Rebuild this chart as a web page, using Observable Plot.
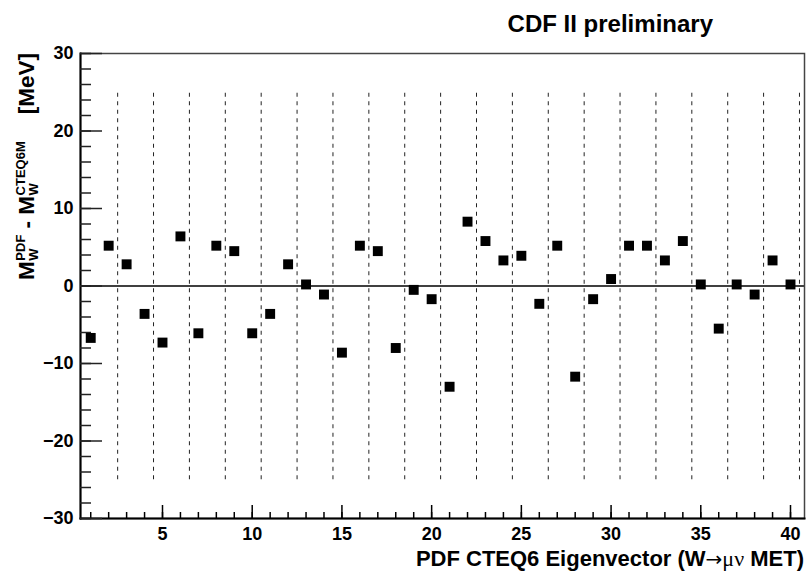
<!DOCTYPE html>
<html>
<head>
<meta charset="utf-8">
<script src="https://cdn.jsdelivr.net/npm/d3@7"></script>
<script src="https://cdn.jsdelivr.net/npm/@observablehq/plot@0.6"></script>
<style>
  body { margin: 0; background: #fff; }
  #chart svg { display: block; }
</style>
</head>
<body>
<div id="chart"></div>
<script>
// ---- data ----
const eigenvectors = [1,2,3,4,5,6,7,8,9,10,11,12,13,14,15,16,17,18,19,20,
                      21,22,23,24,25,26,27,28,29,30,31,32,33,34,35,36,37,38,39,40];
const deltaMW = [-6.7, 5.2, 2.8, -3.6, -7.3, 6.4, -6.1, 5.2, 4.5, -6.1,
                 -3.6, 2.8, 0.2, -1.1, -8.6, 5.2, 4.5, -8.0, -0.5, -1.7,
                 -13.0, 8.3, 5.8, 3.3, 3.9, -2.3, 5.2, -11.7, -1.7, 0.9,
                 5.2, 5.2, 3.3, 5.8, 0.2, -5.5, 0.2, -1.1, 3.3, 0.2];
const xTickLabels = [5, 10, 15, 20, 25, 30, 35, 40];
const xMinorTicks = [1,2,3,4,5,6,7,8,9,10,11,12,13,14,15,16,17,18,19,20,
                     21,22,23,24,25,26,27,28,29,30,31,32,33,34,35,36,37,38,39,40];
const yTickLabels = [-30, -20, -10, 0, 10, 20, 30];
const yMinorTicks = [-30,-28,-26,-24,-22,-20,-18,-16,-14,-12,-10,-8,-6,-4,-2,0,
                     2,4,6,8,10,12,14,16,18,20,22,24,26,28,30];
const separators = [2.5,4.5,6.5,8.5,10.5,12.5,14.5,16.5,18.5,20.5,
                    22.5,24.5,26.5,28.5,30.5,32.5,34.5,36.5,38.5,40.5];
const separatorRange = [-25, 25];
const xDomain = [0.43, 40.78];
const yDomain = [-30, 30];
const titleText = "CDF II preliminary";
const xTitleParts = [["PDF CTEQ6 Eigenvector (W", "b"], ["\u2192", "a"], ["\u03bc\u03bd", "s"], [" MET)", "b"]];
const yTitleParts = [
  {base: "M", sup: "PDF", sub: "W"},
  {sep: " - "},
  {base: "M", sup: "CTEQ6M", sub: "W"}
];
const yUnit = "[MeV]";

// ---- layout ----
const W = 809, H = 575, mL = 80, mR = 5, mT = 53, mB = 57;
const fw = W - mL - mR, fh = H - mT - mB;
const FONT = "'Liberation Sans', Arial, Helvetica, sans-serif";
const SYM = "'Liberation Serif', 'DejaVu Serif', serif";
const ARROW = "'DejaVu Sans', sans-serif";

const data = eigenvectors.map((n, i) => ({n, v: deltaMW[i]}));

const chart = Plot.plot({
  width: W, height: H,
  marginLeft: mL, marginRight: mR, marginTop: mT, marginBottom: mB,
  style: {fontFamily: FONT, fontWeight: "bold", fontSize: "18px", background: "white", color: "black"},
  x: {domain: xDomain, label: null},
  y: {domain: yDomain, label: null},
  marks: [
    Plot.ruleX(separators, {y1: separatorRange[0], y2: separatorRange[1], stroke: "#222", strokeWidth: 1, strokeDasharray: "4,4.5"}),
    Plot.ruleY([0], {stroke: "black", strokeWidth: 1.5}),
    Plot.frame({stroke: "#444", strokeWidth: 1.5}),
    Plot.frame({anchor: "left", stroke: "black", strokeWidth: 2}),
    Plot.frame({anchor: "bottom", stroke: "black", strokeWidth: 2}),
    Plot.tickX(xMinorTicks, {insetTop: fh - 6, stroke: "black", strokeWidth: 1.5}),
    Plot.tickX(xTickLabels, {insetTop: fh - 13, stroke: "black", strokeWidth: 1.5}),
    Plot.tickY(yMinorTicks, {insetRight: fw - 11, stroke: "#222", strokeWidth: 1.5}),
    Plot.tickY(yTickLabels, {insetRight: fw - 22, stroke: "#222", strokeWidth: 1.5}),
    Plot.axisX(xTickLabels, {tickSize: 0, tickPadding: 9, fontSize: 18, fontWeight: "bold"}),
    Plot.axisY(yTickLabels, {tickSize: 0, tickPadding: 7, fontSize: 18, fontWeight: "bold"}),
    Plot.dot(data, {x: "n", y: "v", symbol: "square", r: 5.6, fill: "black", stroke: null})
  ]
});
document.getElementById("chart").appendChild(chart);

const svg = d3.select(chart);

// title
svg.append("text")
  .attr("x", 713).attr("y", 32)
  .attr("text-anchor", "end")
  .attr("font-family", FONT).attr("font-weight", "bold").attr("font-size", 24)
  .attr("fill", "black")
  .text(titleText);

// x-axis title
const xt = svg.append("text")
  .attr("x", W - 5).attr("y", 566)
  .attr("text-anchor", "end")
  .attr("font-size", 22).attr("fill", "black");
const famFor = {b: FONT, s: SYM, a: ARROW};
for (const [t, kind] of xTitleParts) {
  xt.append("tspan")
    .attr("font-family", famFor[kind])
    .attr("font-weight", kind === "b" ? "bold" : "normal")
    .attr("font-size", kind === "a" ? 20 : 22)
    .text(t);
}

// y-axis title: one rotated text, anchored at the top of the frame
const SUP = 13, MAIN = 22.5;
const probe = svg.append("text")
  .attr("font-family", FONT).attr("font-weight", "bold").attr("font-size", SUP)
  .attr("x", -1000).attr("y", -1000);
const subWidth = t => { probe.text(t); return probe.node().getComputedTextLength(); };

const yt = svg.append("text")
  .attr("transform", `translate(33.5,${mT}) rotate(-90)`)
  .attr("text-anchor", "end")
  .attr("font-family", FONT).attr("font-weight", "bold")
  .attr("font-size", MAIN).attr("fill", "black");
let level = 0; // current baseline offset
const shiftTo = target => { const d = target - level; level = target; return d; };
for (const part of yTitleParts) {
  if (part.sep) {
    yt.append("tspan").attr("dy", shiftTo(0)).attr("font-size", MAIN).text(part.sep);
  } else {
    yt.append("tspan").attr("dy", shiftTo(0)).attr("font-size", MAIN).text(part.base);
    yt.append("tspan").attr("dx", 0.5).attr("dy", shiftTo(4.5)).attr("font-size", SUP).text(part.sub);
    yt.append("tspan").attr("dx", -subWidth(part.sub)).attr("dy", shiftTo(-8.5)).attr("font-size", SUP).text(part.sup);
  }
}
yt.append("tspan").attr("dx", 27).attr("dy", shiftTo(0)).attr("font-size", MAIN).text(yUnit);
probe.remove();
</script>
</body>
</html>
